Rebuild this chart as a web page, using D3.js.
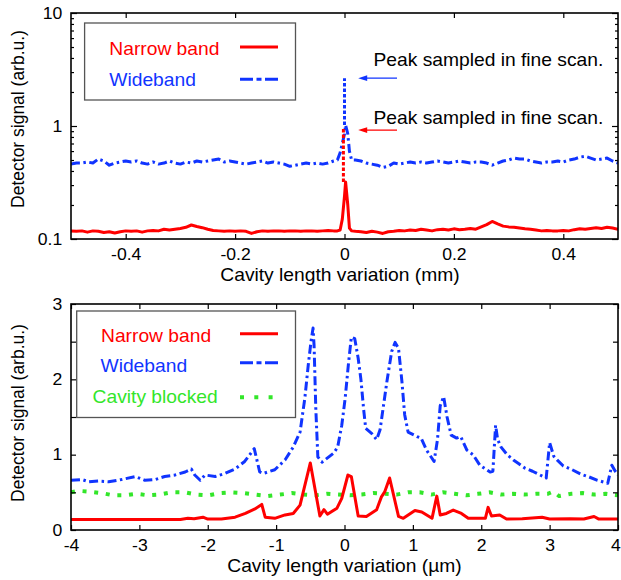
<!DOCTYPE html>
<html>
<head>
<meta charset="utf-8">
<script src="https://cdn.jsdelivr.net/npm/d3@7"></script>
<style>
  body { margin: 0; background: #fff; }
  svg { display: block; font-family: "Liberation Sans", Arial, Helvetica, sans-serif; }
</style>
</head>
<body>
<div id="chart"></div>
<script>
// ---- top panel: coarse scan (mm), log scale ----
// sampled every 0.01 mm, null where the peak table takes over
var coarseWide = [
  0.46,0.47,0.47,0.48,0.47,0.51,0.49,0.45,0.47,0.48,
  0.49,0.48,0.49,0.47,0.46,0.48,0.46,0.47,0.49,0.47,
  0.46,0.48,0.47,0.49,0.48,0.49,0.50,0.51,0.48,0.49,
  0.48,0.47,0.46,0.47,0.48,0.49,0.47,0.48,0.47,0.46,
  0.44,0.45,0.46,0.47,0.46,0.47,0.46,0.47,0.49,null,
  null,null,0.50,0.49,0.47,0.46,0.45,0.43,0.44,0.47,
  0.46,0.47,0.48,0.47,0.48,0.47,0.48,0.49,0.48,0.47,
  0.48,0.49,0.48,0.47,0.48,0.48,0.47,0.45,0.47,0.49,
  0.50,0.52,0.51,0.51,0.49,0.48,0.47,0.48,0.48,0.49,
  0.48,0.50,0.51,0.53,0.54,0.52,0.50,0.51,0.52,0.49,
  0.47];
var coarseNarrow = [
  0.118,0.117,0.118,0.115,0.118,0.117,0.114,0.116,0.113,0.116,
  0.118,0.117,0.118,0.115,0.118,0.119,0.118,0.122,0.120,0.122,
  0.124,0.127,0.133,0.129,0.126,0.122,0.119,0.118,0.117,0.118,
  0.117,0.118,0.117,0.112,0.116,0.118,0.117,0.118,0.118,0.117,
  0.118,0.118,0.117,0.118,0.118,0.117,0.118,0.119,0.118,null,
  null,null,0.117,0.116,0.114,0.117,0.115,0.112,0.116,0.117,
  0.119,0.118,0.120,0.119,0.122,0.120,0.118,0.121,0.122,0.120,
  0.123,0.121,0.122,0.124,0.122,0.128,0.134,0.143,0.136,0.130,
  0.128,0.127,0.125,0.123,0.122,0.120,0.118,0.119,0.118,0.118,
  0.119,0.118,0.121,0.123,0.122,0.124,0.126,0.124,0.127,0.125,
  0.122];
var coarseX = d3.range(-50, 51).map(i => i / 100);

// the central peak, sampled more densely
var peakX = [-0.013, -0.008, -0.004, 0.0, 0.002, 0.006, 0.009, 0.013];
var peakWide = [0.50, 0.58, 0.70, 0.85, 1.02, 0.85, 0.60, 0.50];
var peakNarrow = [0.118, 0.12, 0.15, 0.24, 0.32, 0.20, 0.125, 0.118];

// peak height found in the fine scan (dotted)
var fineX = [0.0, -0.002];
var fineLow = [1.02, 0.32];
var fineHigh = [2.65, 0.95];

// ---- bottom panel: fine scan (um), linear scale ----
var wideX = [-4.0,-3.84,-3.74,-3.6,-3.45,-3.26,-3.06,-2.92,-2.77,-2.63,-2.48,-2.33,-2.24,-2.19,-2.11,-2.04,
  -1.89,-1.75,-1.6,-1.46,-1.32,-1.24,-1.19,-1.02,-0.87,-0.75,-0.65,-0.58,-0.53,-0.49,-0.46,-0.445,-0.42,
  -0.39,-0.33,-0.16,-0.1,-0.04,0.01,0.056,0.1,0.15,0.2,0.24,0.28,0.31,0.4,0.47,0.52,0.62,0.69,0.74,0.79,
  0.84,0.88,0.93,1.06,1.12,1.2,1.31,1.36,1.4,1.45,1.5,1.56,1.64,1.7,1.79,1.88,1.98,2.13,2.17,2.21,2.24,
  2.29,2.38,2.47,2.55,2.64,2.75,2.95,3.0,3.06,3.12,3.2,3.33,3.46,3.56,3.7,3.85,3.91,3.96,4.0];
var wideY = [0.66,0.67,0.64,0.65,0.64,0.67,0.71,0.66,0.67,0.71,0.73,0.77,0.81,0.73,0.66,0.73,
  0.71,0.75,0.81,0.91,1.08,0.77,0.75,0.8,0.93,1.1,1.3,1.75,2.19,2.5,2.68,2.45,1.62,
  0.97,0.9,1.02,1.1,1.39,1.75,2.19,2.56,2.54,2.28,2.0,1.6,1.35,1.28,1.2,1.33,1.97,2.37,2.49,2.41,
  1.97,1.53,1.3,1.24,1.22,1.06,0.91,1.2,1.65,1.77,1.5,1.26,1.22,1.24,1.06,1.0,0.86,0.77,0.78,1.39,1.2,
  1.1,1.0,0.93,0.88,0.82,0.78,0.69,1.16,0.98,0.92,0.85,0.8,0.74,0.71,0.66,0.62,0.86,0.78,0.73];

var narrowX = [-4.0,-3.0,-2.4,-2.29,-2.2,-2.07,-2.0,-1.8,-1.6,-1.45,-1.31,-1.21,-1.16,-1.02,-0.87,-0.75,
  -0.65,-0.5,-0.36,-0.3,-0.25,-0.11,-0.04,0.05,0.1,0.2,0.32,0.47,0.54,0.59,0.66,0.79,0.86,1.03,1.13,1.28,
  1.35,1.4,1.49,1.59,1.71,1.81,2.06,2.1,2.15,2.27,2.37,2.6,2.89,3.0,3.3,3.5,3.65,3.72,4.0];
var narrowY = [0.14,0.14,0.14,0.155,0.15,0.17,0.145,0.145,0.17,0.22,0.28,0.34,0.17,0.155,0.2,0.22,
  0.33,0.89,0.185,0.27,0.21,0.29,0.42,0.73,0.71,0.185,0.18,0.27,0.44,0.51,0.69,0.18,0.155,0.26,0.24,0.155,
  0.45,0.2,0.22,0.265,0.22,0.155,0.155,0.3,0.185,0.2,0.145,0.15,0.17,0.145,0.15,0.145,0.18,0.145,0.145];

var blockedX = [-4.0,-3.89,-3.74,-3.55,-3.38,-3.21,-3.04,-2.87,-2.7,-2.53,-2.33,-2.16,-1.99,-1.82,-1.65,
  -1.48,-1.31,-1.12,-0.94,-0.77,-0.6,-0.43,-0.26,-0.09,0.08,0.25,0.42,0.59,0.76,0.93,1.1,1.27,1.44,1.61,
  1.78,1.95,2.12,2.29,2.46,2.63,2.8,2.97,3.05,3.14,3.31,3.48,3.65,3.82,4.0];
var blockedY = [0.5,0.52,0.51,0.49,0.46,0.46,0.48,0.46,0.47,0.5,0.5,0.47,0.46,0.49,0.5,
  0.49,0.47,0.45,0.47,0.49,0.47,0.46,0.48,0.47,0.46,0.47,0.49,0.48,0.47,0.5,0.5,0.47,0.5,0.48,
  0.46,0.48,0.5,0.47,0.48,0.47,0.48,0.48,0.51,0.45,0.48,0.49,0.47,0.48,0.46];

var topXTicks = [-0.4, -0.2, 0, 0.2, 0.4];
var bottomXTicks = [-4, -3, -2, -1, 0, 1, 2, 3, 4];
var bottomYTicks = [0, 0.5, 1, 1.5, 2, 2.5, 3];

var red = "#ff0000", blue = "#1034ff", green = "#33e62a";
var dashDot = "9,3.5,2.5,3.5";
var legendDashDot = "13,3.5,5,3.5,13";

// ---- layout ----
var frameLeft = 71, frameRight = 618;
var topPanel = { top: 13, bottom: 239 };
var bottomPanel = { top: 304, bottom: 530 };
var stretch = 1.1;    // the original figure is a bit wider than tall
var textSize = 17.5, tickSize = 16;

var svg = d3.select("#chart").append("svg")
  .attr("width", 621)
  .attr("height", 580);

function addText(x, y, str, color, anchor) {
  return svg.append("text")
    .attr("transform", `translate(${x},${y}) scale(${stretch},1)`)
    .attr("text-anchor", anchor || "start")
    .style("font-size", textSize + "px")
    .style("fill", color || "#000")
    .text(str);
}

function zip(xs, ys) {
  return xs.map((x, i) => ({ x: x, y: ys[i] }));
}

function styleAxis(g, labelX) {
  g.attr("font-family", null).attr("font-size", null);
  g.select(".domain").remove();
  g.selectAll("line").attr("stroke", "#000").attr("stroke-width", 1.2);
  g.selectAll("text")
    .style("font-size", tickSize + "px")
    .attr("fill", "#000")
    .attr("transform", `scale(${stretch},1)`);
  if (labelX !== undefined) g.selectAll("text").attr("x", labelX);
}

function addClip(id, panel) {
  svg.append("clipPath").attr("id", id)
    .append("rect")
    .attr("x", frameLeft).attr("y", panel.top)
    .attr("width", frameRight - frameLeft)
    .attr("height", panel.bottom - panel.top);
}

function addFrame(panel) {
  svg.append("rect")
    .attr("x", frameLeft).attr("y", panel.top)
    .attr("width", frameRight - frameLeft)
    .attr("height", panel.bottom - panel.top)
    .attr("fill", "none")
    .attr("stroke", "#000")
    .attr("stroke-width", 1.6);
}

function drawLine(clipId, data, xs, ys, color, dash, width) {
  var line = d3.line()
    .defined(d => d.y != null)
    .x(d => xs(d.x))
    .y(d => ys(d.y));
  svg.append("path")
    .datum(data)
    .attr("clip-path", `url(#${clipId})`)
    .attr("d", line)
    .attr("fill", "none")
    .attr("stroke", color)
    .attr("stroke-width", width || 3)
    .attr("stroke-linejoin", "round")
    .attr("stroke-dasharray", dash || null);
}

function legendBox(x0, y0, x1, y1) {
  svg.append("rect")
    .attr("x", x0).attr("y", y0)
    .attr("width", x1 - x0).attr("height", y1 - y0)
    .attr("fill", "#fff")
    .attr("stroke", "#555")
    .attr("stroke-width", 1.3);
}

function legendSample(y, color, dash, width) {
  svg.append("line")
    .attr("x1", 240).attr("x2", 278)
    .attr("y1", y).attr("y2", y)
    .attr("stroke", color)
    .attr("stroke-width", width || 3)
    .attr("stroke-dasharray", dash || null);
}

// ================= top panel =================
var xTop = d3.scaleLinear().domain([-0.5, 0.5]).range([frameLeft, frameRight]);
var yTop = d3.scaleLog().domain([0.1, 10]).range([topPanel.bottom, topPanel.top]);
var logTicks = yTop.ticks();
var isDecade = d => Math.abs(Math.log10(d) - Math.round(Math.log10(d))) < 1e-6;

addClip("clipTop", topPanel);

var topWide = zip(coarseX, coarseWide).filter(d => d.y != null)
  .concat(zip(peakX, peakWide)).sort((a, b) => a.x - b.x);
var topNarrow = zip(coarseX, coarseNarrow).filter(d => d.y != null)
  .concat(zip(peakX, peakNarrow)).sort((a, b) => a.x - b.x);

drawLine("clipTop", topWide, xTop, yTop, blue, dashDot);
drawLine("clipTop", topNarrow, xTop, yTop, red);
// fine-scan peak heights
drawLine("clipTop", [{ x: fineX[0], y: fineLow[0] }, { x: fineX[0], y: fineHigh[0] }], xTop, yTop, blue, "3.5,2");
drawLine("clipTop", [{ x: fineX[1], y: fineLow[1] }, { x: fineX[1], y: fineHigh[1] }], xTop, yTop, red, "3.5,2");

// axes, ticks pointing inward on all four sides
svg.append("g")
  .attr("transform", `translate(${frameLeft},0)`)
  .call(d3.axisLeft(yTop).tickValues(logTicks).tickSize(-3).tickPadding(8)
    .tickFormat(d => isDecade(d) ? String(+d.toPrecision(1)) : ""))
  .call(g => styleAxis(g, -8))
  .call(g => g.selectAll("line").attr("x2", d => isDecade(d) ? 6 : 3));
svg.append("g")
  .attr("transform", `translate(${frameRight},0)`)
  .call(d3.axisRight(yTop).tickValues(logTicks).tickSize(-3).tickFormat(""))
  .call(g => styleAxis(g))
  .call(g => g.selectAll("line").attr("x2", d => isDecade(d) ? -6 : -3));
svg.append("g")
  .attr("transform", `translate(0,${topPanel.bottom})`)
  .call(d3.axisBottom(xTop).tickValues(topXTicks).tickSize(-5).tickPadding(10).tickFormat(d => String(d)))
  .call(g => styleAxis(g));
svg.append("g")
  .attr("transform", `translate(0,${topPanel.top})`)
  .call(d3.axisTop(xTop).tickValues(topXTicks).tickSize(-5).tickFormat(""))
  .call(g => styleAxis(g));

addFrame(topPanel);

// legend
legendBox(84.6, 23, 295.5, 100);
addText(109.3, 55, "Narrow band", red);
legendSample(47, red);
addText(109.3, 86, "Wideband", blue);
legendSample(79.3, blue, legendDashDot);

// annotations with arrows
var arrowX = [0.096, 0.025];
[{ y: fineHigh[0], color: blue, textY: 66.3 }, { y: 0.92, color: red, textY: 123.5 }].forEach(function(a) {
  var x1 = xTop(arrowX[0]), x2 = xTop(arrowX[1]), y = yTop(a.y);
  svg.append("line")
    .attr("x1", x1).attr("x2", x2 + 6)
    .attr("y1", y).attr("y2", y)
    .attr("stroke", a.color)
    .attr("stroke-width", 1.4);
  svg.append("path")
    .attr("d", `M${x2},${y} L${x2 + 9},${y - 2.8} L${x2 + 9},${y + 2.8} Z`)
    .attr("fill", a.color);
  addText(373.5, a.textY, "Peak sampled in fine scan.", "#000");
});

addText(340, 281, "Cavity length variation  (mm)", "#000", "middle");
svg.append("text")
  .attr("transform", `translate(24,119) scale(${stretch},1) rotate(-90)`)
  .attr("text-anchor", "middle")
  .style("font-size", textSize + "px")
  .text("Detector signal (arb.u.)");

// ================= bottom panel =================
var xBot = d3.scaleLinear().domain([-4, 4]).range([frameLeft, frameRight]);
var yBot = d3.scaleLinear().domain([0, 3]).range([bottomPanel.bottom, bottomPanel.top]);

addClip("clipBot", bottomPanel);

drawLine("clipBot", zip(blockedX, blockedY), xBot, yBot, green, "4,7.7", 4);
drawLine("clipBot", zip(wideX, wideY), xBot, yBot, blue, dashDot);
drawLine("clipBot", zip(narrowX, narrowY), xBot, yBot, red);

svg.append("g")
  .attr("transform", `translate(${frameLeft},0)`)
  .call(d3.axisLeft(yBot).tickValues(bottomYTicks).tickSize(-5).tickPadding(8)
    .tickFormat(d => Number.isInteger(d) ? String(d) : ""))
  .call(g => styleAxis(g, -8));
svg.append("g")
  .attr("transform", `translate(${frameRight},0)`)
  .call(d3.axisRight(yBot).tickValues(bottomYTicks).tickSize(-5).tickFormat(""))
  .call(g => styleAxis(g));
svg.append("g")
  .attr("transform", `translate(0,${bottomPanel.bottom})`)
  .call(d3.axisBottom(xBot).tickValues(bottomXTicks).tickSize(-5).tickPadding(10).tickFormat(d => String(d)))
  .call(g => styleAxis(g))
  // the last label sits on the page edge; keep it inside
  .call(g => g.selectAll("text").filter(d => d === 4).attr("text-anchor", "end").attr("x", 2));
svg.append("g")
  .attr("transform", `translate(0,${bottomPanel.top})`)
  .call(d3.axisTop(xBot).tickValues(bottomXTicks).tickSize(-5).tickFormat(""))
  .call(g => styleAxis(g));

addFrame(bottomPanel);

legendBox(76.7, 311, 295.5, 417.5);
addText(101, 341.7, "Narrow band", red);
legendSample(333.7, red);
addText(100.5, 371.7, "Wideband", blue);
legendSample(362.7, blue, legendDashDot);
addText(92.6, 402.5, "Cavity blocked", green);
legendSample(397.3, green, "4,10.3", 4);

addText(344.5, 572, "Cavity length variation  (\u00b5m)", "#000", "middle");
svg.append("text")
  .attr("transform", `translate(24,413) scale(${stretch},1) rotate(-90)`)
  .attr("text-anchor", "middle")
  .style("font-size", textSize + "px")
  .text("Detector signal (arb.u.)");
</script>
</body>
</html>
